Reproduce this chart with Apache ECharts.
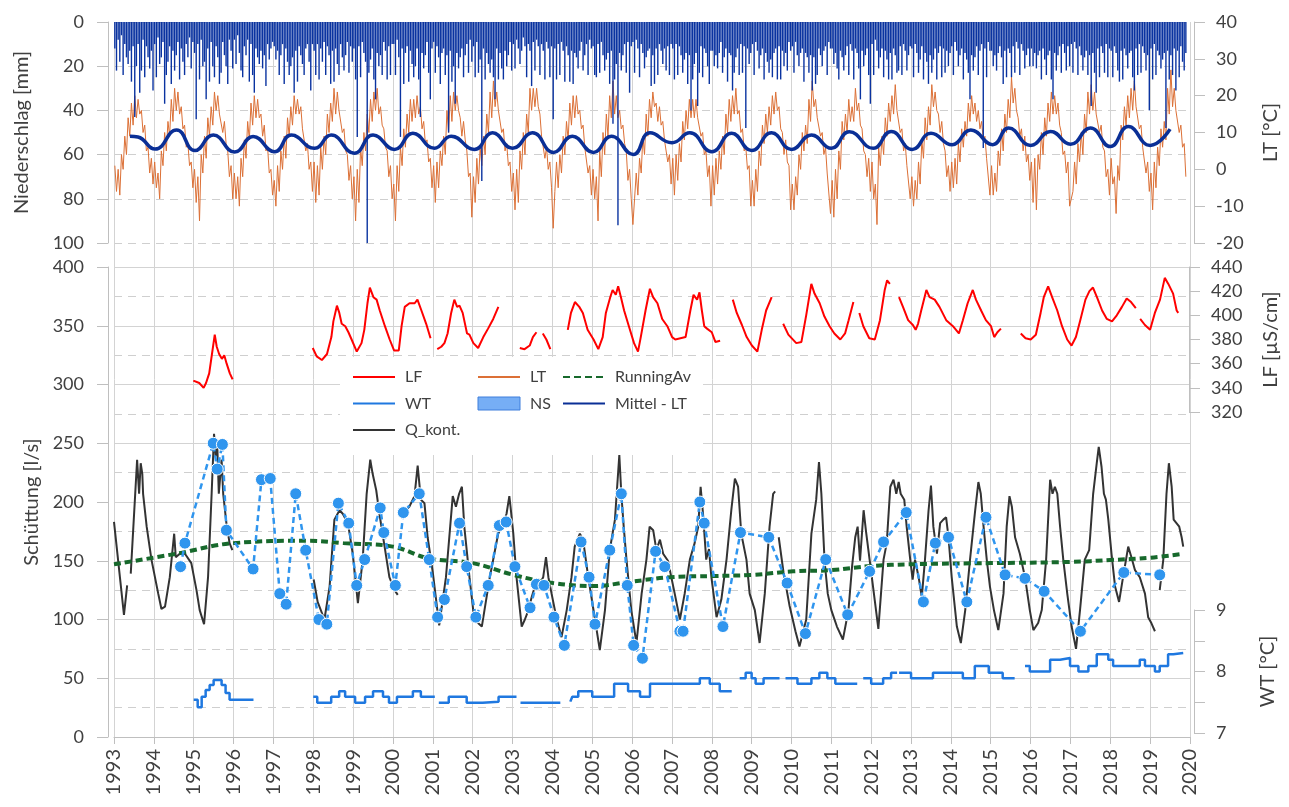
<!DOCTYPE html>
<html><head><meta charset="utf-8">
<script src="https://cdn.jsdelivr.net/npm/echarts@6/dist/echarts.min.js"></script>
<style>html,body{margin:0;padding:0;background:#fff}#c{width:1289px;height:807px}</style>
</head><body><div id="c"></div>
<script>
// ---------- DATA ----------
const startYear = 1993;
const endYear = 2020;
const slotsPerYear = 24; // semi-monthly values
const yearTicks = [1993,1994,1995,1996,1997,1998,1999,2000,2001,2002,2003,2004,2005,2006,2007,2008,2009,2010,2011,2012,2013,2014,2015,2016,2017,2018,2019,2020];

// Niederschlag (NS) [mm], 24 values per year, 1993..2019
const nsValues = [
12,22,8,18,6,24,10,16,19,13,27,11,43,20,10,32,22,8,25,11,16,21,13,31,
10,25,7,19,16,9,37,24,18,11,28,13,22,15,9,26,12,18,24,10,16,7,21,9,
14,44,10,26,8,20,18,35,12,27,9,20,25,11,16,28,23,9,15,20,28,8,13,21,
8,19,6,14,22,25,11,15,8,27,10,24,32,12,16,19,13,21,15,29,10,17,12,9,
11,17,13,24,15,10,28,12,18,24,20,16,32,13,27,11,15,19,24,12,10,18,31,10,
13,24,10,26,12,18,9,24,11,15,28,13,27,12,19,24,10,16,22,15,9,23,11,18,
12,26,52,11,25,9,14,18,104,23,17,12,26,35,14,20,15,24,9,13,26,11,24,10,
10,24,8,16,52,12,28,14,11,27,13,19,25,20,12,26,43,14,21,15,9,23,35,12,
9,23,11,16,28,14,12,24,15,50,13,27,20,37,14,21,16,12,25,15,10,23,8,18,
11,25,9,23,17,72,12,26,14,19,23,17,25,35,12,26,14,21,26,13,20,15,9,22,
10,21,8,12,19,13,7,11,25,10,13,29,9,22,8,11,24,10,13,26,9,12,25,11,
44,12,26,10,24,9,13,27,11,15,27,13,28,14,16,21,13,9,22,15,10,24,8,12,
11,24,25,10,23,9,15,22,17,14,28,13,46,26,19,92,14,22,15,10,23,9,32,11,
9,23,8,12,25,10,14,21,16,13,12,29,15,28,12,24,10,13,19,12,22,11,24,10,
12,26,10,24,11,15,23,17,14,28,15,40,26,19,14,38,23,11,25,12,14,20,28,13,
13,20,15,21,14,9,23,16,12,27,14,15,31,23,16,12,24,10,23,11,48,12,19,14,
10,24,9,13,21,15,12,26,14,18,23,17,25,14,12,26,11,26,13,20,14,22,9,13,
11,23,9,15,20,14,12,27,14,16,23,15,31,16,28,24,12,15,20,13,11,24,9,12,
12,19,14,21,26,13,16,22,15,11,24,10,13,26,12,14,21,35,13,20,15,12,24,37,
10,24,8,13,21,16,12,25,13,17,26,14,26,12,15,23,22,11,24,10,13,22,15,11,
12,25,10,14,23,17,11,26,14,18,28,15,23,17,12,26,14,11,25,12,23,13,20,14,
11,24,9,13,20,15,12,26,14,17,23,35,15,22,16,11,24,13,10,57,12,25,9,13,
13,20,15,22,14,11,16,28,13,25,12,14,25,11,23,9,12,24,10,13,21,15,12,20,
12,20,14,21,15,13,26,12,17,24,15,13,26,35,14,22,15,11,23,10,14,22,11,20,
10,23,9,12,24,11,15,22,16,13,24,15,38,14,23,32,12,25,11,14,23,10,25,12,
13,25,11,14,22,27,13,26,12,15,21,14,13,25,31,12,24,10,23,11,14,22,15,40,
12,26,10,24,13,15,21,17,14,48,13,26,15,24,12,31,13,25,11,18,22,14
];

// Lufttemperatur (LT) [°C], 24 values per year, 1993..2019
const ltValues = [
1,-6,0,-7,4,0,9,4,14,9,18,12,20,14,19,15,16,10,12,5,6,-1,3,-4,
2,-5,-1,-8,5,1,10,5,13,9,19,13,22,16,21,15,17,11,12,6,7,1,2,-5,
0,-9,-2,-14,4,-1,9,3,14,9,17,12,21,16,20,15,15,10,13,7,5,-2,1,-8,
-1,-8,-2,-10,3,-2,8,3,13,8,18,12,20,14,19,14,15,9,12,5,6,-1,0,-7,
-3,-10,1,-6,5,0,9,3,14,9,17,12,20,15,19,15,17,11,11,5,7,0,2,-6,
2,-9,1,-7,6,0,9,4,15,10,18,13,22,15,21,16,16,10,11,5,4,-3,1,-8,
-2,-14,0,-9,6,1,10,5,15,10,19,13,21,16,22,15,17,12,11,6,5,-2,1,-8,
-4,-14,1,-6,6,1,11,6,15,10,19,13,19,14,20,15,17,11,13,7,8,2,3,-5,
1,-9,2,-5,5,1,9,4,16,10,20,13,21,16,20,16,14,9,13,8,5,-2,-1,-13,
-2,-9,3,-4,6,1,9,4,15,10,21,14,24,17,21,16,16,10,11,5,7,1,2,-6,
-1,-11,0,-9,5,0,10,4,15,10,22,16,22,17,22,17,15,9,9,3,6,0,2,-5,
-16,-6,2,-5,4,-1,9,4,13,8,18,12,20,14,20,15,16,11,12,6,6,-1,1,-7,
0,-8,-2,-14,5,-2,10,4,15,9,20,14,24,15,20,14,16,11,12,7,5,-3,0,-8,
-15,-8,-1,-7,3,-1,9,4,15,9,19,14,21,17,18,13,17,12,13,8,8,2,4,-4,
3,-7,4,-3,7,2,13,8,16,11,19,14,19,14,19,14,14,9,10,4,5,-2,1,-10,
1,-7,3,-4,5,0,9,4,15,10,19,13,20,15,22,15,16,10,11,5,6,0,1,-10,
-3,-10,0,-6,5,1,12,7,15,10,17,12,20,15,21,16,17,11,10,4,8,2,1,-11,
-4,-11,-2,-7,4,0,10,5,12,7,19,13,24,17,19,14,14,9,10,4,6,-1,-1,-12,
-3,-13,0,-8,5,0,13,8,15,10,19,13,17,13,22,16,18,12,11,5,4,-2,3,-6,
2,-8,-4,-15,6,1,9,4,14,9,18,13,20,15,23,16,16,10,11,5,7,1,1,-8,
-2,-10,-3,-8,2,-4,8,3,14,8,17,12,23,17,21,16,15,10,13,7,5,-2,1,-6,
2,-5,3,-4,7,2,11,6,13,9,18,13,20,15,18,13,16,11,13,8,9,3,3,-7,
1,-7,-1,-6,5,1,11,5,15,10,19,14,25,18,22,16,14,9,11,5,9,2,4,-3,
2,-9,3,-11,4,0,10,4,14,9,18,13,21,15,20,15,18,12,10,4,5,-1,2,-10,
-10,-6,2,-4,7,2,10,4,15,10,21,15,23,16,21,15,15,10,12,6,5,-2,0,-7,
3,-4,-2,-12,1,-3,12,8,17,12,20,14,22,16,24,17,17,11,12,6,6,-1,2,-6,
-1,-11,2,-5,6,1,11,6,13,8,22,15,27,17,22,16,16,10,12,6,7,-2
];

// Mittel - LT [°C] (year, value)
const mittelLT = [
[1993.4,9.0],[1993.6,8.8],[1994.03,5.5],[1994.57,10.7],[1995.03,5.1],[1995.49,9.3],[1996.03,4.7],[1996.49,8.9],
[1997.03,4.8],[1997.45,9.3],[1998.03,5.7],[1998.45,9.3],[1999.03,4.4],[1999.5,9.3],[2000.04,5.4],[2000.5,9.8],
[2001.04,5.7],[2001.46,9.0],[2002.04,5.4],[2002.5,9.9],[2003.0,5.7],[2003.5,9.9],[2004.03,4.6],[2004.5,9.0],
[2005.03,4.6],[2005.48,9.0],[2006.03,4.0],[2006.45,9.9],[2007.0,7.2],[2007.45,9.9],[2008.0,4.8],[2008.5,9.8],
[2009.0,5.1],[2009.5,9.9],[2010.0,5.4],[2010.5,9.3],[2011.0,5.7],[2011.45,10.2],[2012.05,5.7],[2012.5,10.3],
[2013.03,5.4],[2013.5,9.8],[2014.03,6.7],[2014.5,10.7],[2015.05,6.7],[2015.45,11.2],[2016.0,6.5],[2016.5,10.3],
[2017.0,6.8],[2017.5,11.2],[2018.0,6.2],[2018.45,11.6],[2019.0,6.5],[2019.5,10.9]
];

// Q_kont. [l/s] (year, value), '-' = gap
const qKont = [
[1993.00,183],[1993.25,104],[1993.33,129],[1993.38,'-'],
[1993.42,139],[1993.58,236],[1993.63,207],[1993.67,233],[1993.71,224],[1993.73,207],[1993.82,179],[1993.94,151],
[1994.11,122],[1994.19,109],[1994.28,111],[1994.40,136],[1994.51,173],[1994.55,153],[1994.65,156],[1994.78,156],
[1994.94,148],[1995.07,125],[1995.15,108],[1995.26,96],[1995.36,136],[1995.45,207],[1995.51,258],[1995.55,239],
[1995.59,250],[1995.63,207],[1995.70,236],[1995.74,207],[1995.82,182],[1995.90,165],[1995.97,159],[1996.5,'-'],
[1998.01,134],[1998.11,115],[1998.28,100],[1998.41,128],[1998.53,185],[1998.66,193],[1998.74,190],[1998.87,182],
[1998.99,156],[1999.12,114],[1999.24,151],[1999.34,207],[1999.43,236],[1999.49,224],[1999.58,210],[1999.66,190],
[1999.79,162],[1999.91,136],[2000.04,125],[2000.12,121],[2000.18,'-'],
[2000.25,190],[2000.41,196],[2000.54,205],[2000.62,231],[2000.70,202],[2000.79,199],[2000.87,170],[2001.00,140],
[2001.16,95],[2001.33,136],[2001.50,205],[2001.58,196],[2001.66,207],[2001.73,213],[2001.79,179],[2001.92,136],
[2002.04,100],[2002.23,94],[2002.43,136],[2002.64,173],[2002.77,182],[2002.85,190],[2002.92,205],[2002.95,196],
[2003.02,173],[2003.10,136],[2003.23,94],[2003.31,100],[2003.40,108],[2003.48,119],[2003.56,128],[2003.69,131],
[2003.77,136],[2003.84,153],[2003.90,136],[2003.98,122],[2004.11,100],[2004.23,85],[2004.36,108],[2004.48,136],
[2004.56,162],[2004.69,173],[2004.77,168],[2004.90,136],[2005.07,100],[2005.19,74],[2005.32,108],[2005.44,159],
[2005.57,185],[2005.68,240],[2005.73,207],[2005.79,179],[2005.86,151],[2005.98,108],[2006.11,80],[2006.24,122],
[2006.36,151],[2006.44,179],[2006.53,176],[2006.61,159],[2006.70,168],[2006.78,156],[2006.90,150],[2007.07,122],
[2007.20,100],[2007.32,122],[2007.45,151],[2007.57,165],[2007.66,179],[2007.72,213],[2007.78,190],[2007.86,151],
[2007.93,160],[2007.99,136],[2008.12,102],[2008.24,117],[2008.37,151],[2008.49,193],[2008.58,220],[2008.66,213],
[2008.74,173],[2008.87,151],[2008.95,122],[2009.08,108],[2009.20,80],[2009.33,122],[2009.45,179],[2009.54,207],
[2009.59,209],[2009.63,'-'],
[2009.68,170],[2009.80,140],[2009.95,112],[2010.10,90],[2010.20,77],[2010.37,100],[2010.50,173],[2010.62,202],
[2010.69,234],[2010.75,207],[2010.83,150],[2010.91,122],[2011.00,108],[2011.14,94],[2011.29,83],[2011.43,108],
[2011.52,145],[2011.60,170],[2011.66,179],[2011.72,150],[2011.81,193],[2011.87,175],[2012.02,135],[2012.18,92],
[2012.31,151],[2012.39,165],[2012.48,213],[2012.56,219],[2012.63,207],[2012.69,217],[2012.74,207],[2012.83,202],
[2012.89,179],[2012.98,151],[2013.04,134],[2013.10,151],[2013.19,136],[2013.27,119],[2013.35,151],[2013.44,193],
[2013.50,214],[2013.56,179],[2013.65,156],[2013.73,182],[2013.81,185],[2013.88,187],[2013.94,170],[2014.02,136],
[2014.15,94],[2014.25,80],[2014.36,108],[2014.48,151],[2014.61,193],[2014.69,217],[2014.75,207],[2014.82,179],
[2014.90,151],[2014.98,128],[2015.08,108],[2015.19,91],[2015.32,122],[2015.40,179],[2015.47,205],[2015.53,196],
[2015.61,170],[2015.73,156],[2015.86,136],[2015.98,108],[2016.07,91],[2016.19,97],[2016.28,108],[2016.39,151],
[2016.49,219],[2016.55,207],[2016.61,213],[2016.67,207],[2016.74,179],[2016.82,151],[2016.92,122],[2017.03,94],
[2017.14,75],[2017.24,108],[2017.36,151],[2017.47,159],[2017.57,207],[2017.66,233],[2017.71,247],[2017.78,230],
[2017.84,207],[2017.89,202],[2017.95,185],[2018.03,156],[2018.12,128],[2018.22,115],[2018.32,136],[2018.45,162],
[2018.53,153],[2018.62,142],[2018.74,136],[2018.87,122],[2018.95,102],[2019.03,97],[2019.12,90],[2019.18,'-'],
[2019.24,125],[2019.33,151],[2019.41,207],[2019.47,233],[2019.54,213],[2019.59,185],[2019.66,182],[2019.73,179],
[2019.79,170],[2019.83,162]
];

// Q (Einzelmessungen) [l/s]
const qMess = [
[1994.67,145],[1994.78,165],[1995.49,250],[1995.59,228],[1995.72,249],[1995.82,176],[1996.49,143],[1996.70,219],
[1996.92,220],[1997.16,122],[1997.32,113],[1997.56,207],[1997.81,159],[1998.14,100],[1998.34,96],[1998.63,199],
[1998.89,182],[1999.09,129],[1999.29,151],[1999.68,195],[1999.77,174],[2000.06,129],[2000.26,191],[2000.66,207],
[2000.91,151],[2001.12,102],[2001.29,117],[2001.67,182],[2001.85,145],[2002.08,102],[2002.39,129],[2002.67,180],
[2002.84,183],[2003.06,145],[2003.44,110],[2003.60,130],[2003.79,129],[2004.04,102],[2004.30,78],[2004.72,166],
[2004.92,136],[2005.07,96],[2005.44,159],[2005.73,207],[2005.88,129],[2006.04,78],[2006.26,67],[2006.59,158],
[2006.82,145],[2007.20,90],[2007.28,90],[2007.70,200],[2007.81,182],[2008.28,94],[2008.72,174],[2009.43,170],
[2009.89,131],[2010.35,88],[2010.86,151],[2011.41,104],[2011.96,141],[2012.31,166],[2012.88,191],[2013.31,115],
[2013.61,165],[2013.94,170],[2014.40,115],[2014.88,187],[2015.36,138],[2015.86,135],[2016.34,124],[2017.25,90],
[2018.34,140],[2019.24,138]
];

// RunningAv [l/s]
const runningAv = [
[1993.0,147],[1994.57,156],[1996.0,165],[1997.9,167],[1998.75,165],[2000.0,162],[2000.9,152],[2002.0,148],
[2003.02,138],[2004.02,131],[2005.02,128.5],[2005.94,132],[2006.95,136],[2008.03,137],[2009.03,138],[2010.04,141],
[2011.0,142],[2012.0,145.5],[2013.0,147],[2015.0,148],[2017.0,149],[2018.0,150.6],[2019.0,152.6],[2019.83,156]
];

// LF [µS/cm]
const lfData = [
[1995.00,346],[1995.15,344],[1995.26,340],[1995.32,344],[1995.40,352],[1995.47,368],[1995.54,384],[1995.59,374],
[1995.65,368],[1995.72,364],[1995.78,367],[1995.84,360],[1995.92,352],[1995.99,347],[1996.5,'-'],
[1998.01,373],[1998.11,366],[1998.24,363],[1998.37,368],[1998.48,382],[1998.53,395],[1998.62,408],[1998.68,402],
[1998.74,393],[1998.83,391],[1998.91,386],[1998.99,380],[1999.12,370],[1999.24,377],[1999.31,388],[1999.39,410],
[1999.45,423],[1999.54,415],[1999.62,413],[1999.70,404],[1999.83,391],[1999.95,380],[2000.06,371],[2000.18,371],
[2000.25,391],[2000.33,407],[2000.45,410],[2000.58,410],[2000.65,413],[2000.75,404],[2000.87,393],[2000.98,381],[2001.06,'-'],
[2001.15,372],[2001.25,374],[2001.33,377],[2001.41,385],[2001.50,402],[2001.58,413],[2001.65,407],[2001.71,408],
[2001.79,402],[2001.90,385],[2001.96,384],[2002.06,377],[2002.18,373],[2002.31,382],[2002.43,389],[2002.56,397],
[2002.69,407],[2002.9,'-'],
[2003.23,373],[2003.35,372],[2003.48,375],[2003.56,382],[2003.65,386],[2003.72,'-'],[2003.81,385],[2003.90,380],[2004.00,372],[2004.2,'-'],
[2004.44,388],[2004.52,402],[2004.62,411],[2004.73,407],[2004.82,402],[2004.94,388],[2005.09,380],[2005.21,372],
[2005.32,382],[2005.40,402],[2005.51,415],[2005.57,421],[2005.65,417],[2005.71,424],[2005.78,415],[2005.86,404],
[2005.98,391],[2006.11,377],[2006.21,370],[2006.28,382],[2006.40,404],[2006.51,422],[2006.59,415],[2006.70,410],
[2006.82,397],[2006.95,391],[2007.07,382],[2007.15,380],[2007.28,381],[2007.41,382],[2007.53,404],[2007.61,417],
[2007.70,413],[2007.76,419],[2007.82,404],[2007.88,391],[2007.95,389],[2008.07,386],[2008.16,378],[2008.28,379],[2008.45,'-'],
[2008.60,413],[2008.70,402],[2008.83,392],[2008.95,382],[2009.08,375],[2009.22,370],[2009.33,388],[2009.44,404],[2009.58,415],[2009.72,'-'],
[2009.87,393],[2010.00,384],[2010.20,377],[2010.33,378],[2010.45,400],[2010.58,426],[2010.66,418],[2010.79,410],
[2010.91,399],[2011.04,391],[2011.16,385],[2011.31,380],[2011.43,385],[2011.52,396],[2011.64,411],[2011.72,'-'],
[2011.79,402],[2011.89,391],[2012.04,381],[2012.18,380],[2012.31,396],[2012.43,421],[2012.49,429],[2012.56,426],[2012.68,'-'],
[2012.79,415],[2012.89,407],[2013.02,396],[2013.14,392],[2013.21,388],[2013.27,393],[2013.35,404],[2013.48,421],
[2013.56,415],[2013.69,413],[2013.81,407],[2013.98,396],[2014.15,391],[2014.30,385],[2014.40,396],[2014.52,410],
[2014.65,421],[2014.73,413],[2014.86,404],[2014.98,396],[2015.11,391],[2015.19,382],[2015.27,386],[2015.36,389],[2015.6,'-'],
[2015.86,385],[2015.98,381],[2016.11,380],[2016.24,384],[2016.36,402],[2016.44,415],[2016.55,424],[2016.65,415],
[2016.78,404],[2016.90,391],[2017.03,380],[2017.14,375],[2017.25,382],[2017.36,396],[2017.49,413],[2017.59,420],
[2017.68,423],[2017.78,415],[2017.91,404],[2018.03,397],[2018.16,395],[2018.28,400],[2018.41,407],[2018.53,414],
[2018.64,411],[2018.76,406],[2018.82,'-'],
[2018.87,397],[2018.99,392],[2019.12,388],[2019.24,402],[2019.37,413],[2019.49,431],[2019.58,426],[2019.70,418],
[2019.79,404],[2019.83,402]
];

// WT [°C] step values (segment start year, value)
const wtData = [
[1995.0,7.54],[1995.1,7.42],[1995.2,7.59],[1995.3,7.70],[1995.4,7.78],[1995.5,7.86],[1995.7,7.78],[1995.8,7.65],[1995.9,7.54],[1996.0,7.54],
[1996.5,'-'],
[1998.0,7.59],[1998.1,7.49],[1998.45,7.59],[1998.65,7.68],[1998.8,7.59],[1999.05,7.49],[1999.3,7.59],[1999.5,7.68],[1999.75,7.59],
[1999.9,7.49],[2000.1,7.59],[2000.5,7.68],[2000.7,7.59],[2000.98,7.59],
[2001.05,'-'],
[2001.15,7.49],[2001.4,7.59],[2001.85,7.49],[2002.25,7.51],[2002.65,7.59],[2003.0,7.59],
[2003.1,'-'],
[2003.2,7.49],[2004.0,7.49],
[2004.2,'-'],
[2004.45,7.51],[2004.5,7.59],[2004.65,7.68],[2005.0,7.59],[2005.55,7.80],[2005.9,7.68],[2006.2,7.59],[2006.45,7.80],
[2007.7,7.89],[2007.95,7.80],[2008.2,7.68],[2008.3,7.68],
[2008.5,'-'],
[2008.7,7.89],[2008.85,7.98],[2009.0,7.89],[2009.1,7.80],[2009.3,7.89],[2009.55,7.89],
[2009.7,'-'],
[2009.85,7.89],[2010.15,7.80],[2010.5,7.89],[2010.7,7.98],[2010.9,7.89],[2011.1,7.80],[2011.5,7.80],
[2011.65,'-'],
[2011.8,7.89],[2012.0,7.80],[2012.3,7.89],[2012.5,7.98],[2012.6,7.98],
[2012.65,'-'],
[2012.7,7.98],[2013.0,7.89],[2013.55,7.98],[2014.3,7.89],[2014.6,8.09],[2014.95,7.98],[2015.3,7.89],[2015.35,7.89],
[2015.6,'-'],
[2015.86,8.09],[2015.98,8.0],[2016.49,8.19],[2016.74,8.22],[2016.99,8.09],[2017.2,8.0],[2017.45,8.09],[2017.66,8.28],
[2017.95,8.19],[2018.07,8.09],[2018.74,8.19],[2018.87,8.09],[2019.12,8.0],[2019.24,8.09],[2019.45,8.28],[2019.58,8.30],[2019.83,8.30]
];

// ---------- CHART ----------
const FONT = 'Lato, "Open Sans", sans-serif';
const TXT = '#404040';
const AX = '#bfbfbf';
const slotX = i => startYear + (i + 0.5) / slotsPerYear;
const nsSeriesData = nsValues.map((v, i) => [slotX(i), v]);
const ltSeriesData = ltValues.map((v, i) => [slotX(i), v]);

const L = 114, R = 99;
const xBase = { type: 'value', min: startYear, max: endYear, interval: 1 };
const hiddenX = gi => Object.assign({}, xBase, { gridIndex: gi, show: false });
const labelStyle = { fontFamily: FONT, fontSize: 18, color: TXT };
const nameStyle = { fontFamily: FONT, fontSize: 20, color: TXT };

function yAx(o) {
  return Object.assign({
    type: 'value',
    axisLine: { show: true, lineStyle: { color: AX } },
    axisTick: { show: true, inside: false, length: 11, lineStyle: { color: AX } },
    axisLabel: Object.assign({}, labelStyle),
    splitLine: { show: false },
    nameLocation: 'middle', nameRotate: 90,
    nameTextStyle: nameStyle
  }, o);
}

const legendCommon = {
  orient: 'vertical', top: 369, itemWidth: 42, itemHeight: 13, itemGap: 10.5,
  selectedMode: false, padding: 0,
  itemStyle: { opacity: 0 },
  textStyle: { fontFamily: FONT, fontSize: 16, color: TXT, lineHeight: 16, padding: [0, 0, 0, 5] }
};

const option = {
  animation: false,
  backgroundColor: '#fff',
  grid: [
    { left: L, right: R, top: 22, bottom: 70 },
    { left: L, right: R, top: 22, height: 221 },
    { left: L, right: R, top: 267, bottom: 70 },
    { left: L, right: R, top: 267, height: 145 },
    { left: L, right: R, top: 610, height: 123 }
  ],
  xAxis: [
    Object.assign({}, xBase, {
      gridIndex: 0, position: 'bottom',
      axisLine: { show: true, lineStyle: { color: AX } },
      axisTick: { show: true, length: 7, lineStyle: { color: AX } },
      axisLabel: Object.assign({}, labelStyle, { fontSize: 20, rotate: 90, margin: 12, formatter: v => String(v) }),
      splitLine: { show: true, lineStyle: { color: '#d3d3d3', width: 1 } }
    }),
    hiddenX(1), hiddenX(2), hiddenX(3), hiddenX(4)
  ],
  yAxis: [
    { gridIndex: 0, type: 'value', min: 0, max: 1, show: false },
    yAx({ gridIndex: 1, position: 'left', inverse: true, min: 0, max: 100, interval: 20, offset: 6,
      axisLabel: Object.assign({}, labelStyle, { margin: 24 }),
      splitLine: { show: true, lineStyle: { color: '#cfcfcf', type: [8, 6] } },
      name: 'Niederschlag [mm]', nameGap: 76 }),
    yAx({ gridIndex: 1, position: 'right', min: -20, max: 40, interval: 10, offset: 4,
      axisLabel: Object.assign({}, labelStyle, { margin: 22 }),
      name: 'LT [°C]', nameGap: 67 }),
    yAx({ gridIndex: 2, position: 'left', min: 0, max: 400, interval: 50, offset: 6,
      axisLabel: Object.assign({}, labelStyle, { margin: 24 }),
      splitLine: { show: true, lineStyle: { color: '#d3d3d3', width: 1 } },
      minorTick: { show: false, splitNumber: 2 },
      minorSplitLine: { show: true, lineStyle: { color: '#cfcfcf', type: [8, 6] } },
      name: 'Schüttung [l/s]', nameGap: 59 }),
    yAx({ gridIndex: 3, position: 'right', min: 320, max: 440, interval: 20, offset: 4,
      axisLabel: Object.assign({}, labelStyle, { margin: 22 }),
      name: 'LF [µS/cm]', nameGap: 72 }),
    yAx({ gridIndex: 4, position: 'right', min: 7, max: 9, interval: 0.5, offset: 4,
      axisLabel: Object.assign({}, labelStyle, { margin: 22, formatter: v => (Math.abs(v - Math.round(v)) < 1e-6 ? String(Math.round(v)) : '') }),
      name: 'WT [°C]', nameGap: 64 })
  ],
  legend: [
    Object.assign({}, legendCommon, { left: 352, data: ['LF', 'WT', 'Q_kont.'] }),
    Object.assign({}, legendCommon, { left: 477, data: ['LT', { name: 'NS', icon: 'rect', itemStyle: { opacity: 1, color: '#76aef5', borderColor: '#3f7fdc', borderWidth: 1 } }] }),
    Object.assign({}, legendCommon, { left: 562, data: ['RunningAv', 'Mittel - LT'] })
  ],
  graphic: [
    { type: 'rect', z: 3, shape: { x: 340, y: 357, width: 363, height: 98 }, style: { fill: '#ffffff' } }
  ],
  series: [
    { name: 'LT', type: 'line', xAxisIndex: 1, yAxisIndex: 2, data: ltSeriesData, symbol: 'none',
      lineStyle: { color: '#dc7036', width: 1 }, itemStyle: { color: '#dc7036' }, z: 2 },
    { name: 'NS', type: 'bar', xAxisIndex: 1, yAxisIndex: 1, data: nsSeriesData, barWidth: 1.4,
      itemStyle: { color: '#0a33a0' }, z: 3 },
    { name: 'Mittel - LT', type: 'line', xAxisIndex: 1, yAxisIndex: 2, data: mittelLT, symbol: 'none', smooth: 0.5,
      lineStyle: { color: '#0a2f96', width: 3.5 }, itemStyle: { color: '#0a2f96' }, z: 4 },
    { name: 'Q_kont.', type: 'line', xAxisIndex: 2, yAxisIndex: 3, data: qKont, symbol: 'none', connectNulls: false,
      lineStyle: { color: '#333333', width: 2 }, itemStyle: { color: '#333333' }, z: 3 },
    { name: 'RunningAv', type: 'line', xAxisIndex: 2, yAxisIndex: 3, data: runningAv, symbol: 'none', smooth: 0.4,
      lineStyle: { color: '#17692c', width: 4, type: [7, 4] }, itemStyle: { color: '#17692c' }, z: 4 },
    { name: 'Q', type: 'line', xAxisIndex: 2, yAxisIndex: 3, data: qMess, symbol: 'circle', symbolSize: 12,
      lineStyle: { color: '#2f95ee', width: 2.5, type: [6, 4] },
      itemStyle: { color: '#2f95ee', borderColor: '#ffffff', borderWidth: 1 }, z: 5 },
    { name: 'LF', type: 'line', xAxisIndex: 3, yAxisIndex: 4, data: lfData, symbol: 'none', connectNulls: false,
      lineStyle: { color: '#ff0000', width: 2 }, itemStyle: { color: '#ff0000' }, z: 4 },
    { name: 'WT', type: 'line', xAxisIndex: 4, yAxisIndex: 5, data: wtData, symbol: 'none', step: 'end', connectNulls: false,
      lineStyle: { color: '#1f78e0', width: 2.5 }, itemStyle: { color: '#1f78e0' }, z: 4 }
  ]
};

const chart = echarts.init(document.getElementById('c'));
chart.setOption(option);
</script>
</body></html>
